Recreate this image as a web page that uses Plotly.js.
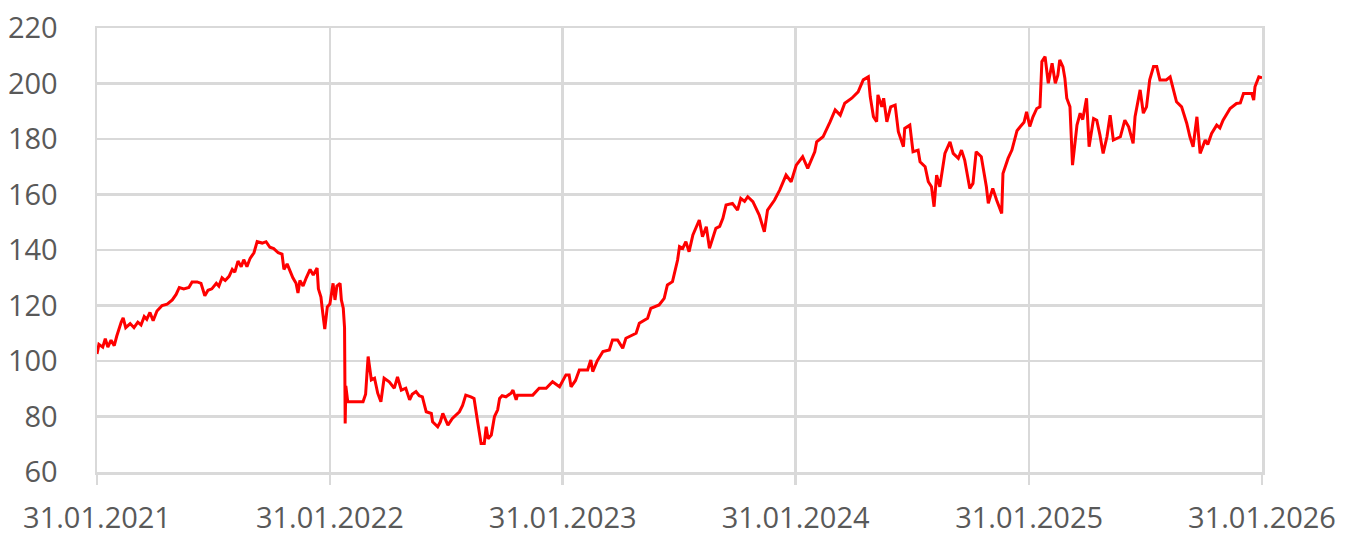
<!DOCTYPE html>
<html>
<head>
<meta charset="utf-8">
<script src="https://cdn.plot.ly/plotly-3.0.1.min.js"></script>
<style>html,body{margin:0;padding:0;background:#fff;}#chart{width:1346px;height:537px;}</style>
</head>
<body>
<div id="chart"></div>
<script>
const dates = [
"2021-01-31","2021-02-03","2021-02-09","2021-02-13","2021-02-17","2021-02-22","2021-02-27","2021-03-03","2021-03-10","2021-03-13",
"2021-03-17","2021-03-24","2021-03-30","2021-04-05","2021-04-10","2021-04-15","2021-04-19","2021-04-24","2021-04-29","2021-05-05",
"2021-05-13","2021-05-21","2021-05-29","2021-06-04","2021-06-09","2021-06-16","2021-06-24","2021-06-29","2021-07-07","2021-07-13",
"2021-07-19","2021-07-24","2021-07-30","2021-08-06","2021-08-10","2021-08-15","2021-08-20","2021-08-26","2021-08-31","2021-09-04",
"2021-09-09","2021-09-14","2021-09-18","2021-09-23","2021-09-28","2021-10-04","2021-10-09","2021-10-17","2021-10-23","2021-10-29",
"2021-11-04","2021-11-11","2021-11-17","2021-11-20","2021-11-25","2021-11-29","2021-12-04","2021-12-09","2021-12-12","2021-12-15",
"2021-12-20","2021-12-25","2021-12-31","2022-01-05","2022-01-11","2022-01-13","2022-01-17","2022-01-20","2022-01-23","2022-01-27",
"2022-01-31","2022-02-05","2022-02-08","2022-02-11","2022-02-16","2022-02-18","2022-02-21","2022-02-23","2022-02-24","2022-02-25",
"2022-02-28","2022-03-24","2022-03-28","2022-03-30","2022-04-01","2022-04-06","2022-04-11","2022-04-16","2022-04-21","2022-04-26",
"2022-05-04","2022-05-12","2022-05-17","2022-05-23","2022-05-30","2022-06-05","2022-06-09","2022-06-15","2022-06-20","2022-06-25",
"2022-07-01","2022-07-09","2022-07-11","2022-07-19","2022-07-23","2022-07-27","2022-07-31","2022-08-04","2022-08-11","2022-08-22",
"2022-08-27","2022-09-01","2022-09-09","2022-09-14","2022-09-20","2022-09-25","2022-09-30","2022-10-03","2022-10-06","2022-10-11",
"2022-10-16","2022-10-21","2022-10-24","2022-10-28","2022-11-03","2022-11-11","2022-11-14","2022-11-19","2022-11-21","2022-12-15",
"2022-12-25","2023-01-05","2023-01-15","2023-01-26","2023-02-05","2023-02-10","2023-02-13","2023-02-20","2023-02-26","2023-03-11",
"2023-03-16","2023-03-19","2023-03-26","2023-04-04","2023-04-14","2023-04-19","2023-04-27","2023-05-05","2023-05-10","2023-05-26",
"2023-05-31","2023-06-13","2023-06-18","2023-07-01","2023-07-09","2023-07-14","2023-07-22","2023-07-25","2023-07-30","2023-08-02",
"2023-08-07","2023-08-12","2023-08-17","2023-08-23","2023-08-28","2023-09-02","2023-09-07","2023-09-13","2023-09-18","2023-09-23",
"2023-09-28","2023-10-04","2023-10-09","2023-10-14","2023-10-24","2023-11-01","2023-11-06","2023-11-12","2023-11-17","2023-11-25",
"2023-11-30","2023-12-05","2023-12-13","2023-12-18","2023-12-29","2024-01-06","2024-01-16","2024-01-24","2024-02-01","2024-02-11",
"2024-02-19","2024-03-01","2024-03-04","2024-03-14","2024-03-25","2024-04-02","2024-04-10","2024-04-17","2024-04-28","2024-05-08",
"2024-05-16","2024-05-24","2024-05-27","2024-06-01","2024-06-06","2024-06-08","2024-06-14","2024-06-17","2024-06-22","2024-06-28",
"2024-07-05","2024-07-10","2024-07-18","2024-07-20","2024-07-28","2024-08-02","2024-08-10","2024-08-13","2024-08-21","2024-08-26",
"2024-08-31","2024-09-04","2024-09-08","2024-09-13","2024-09-21","2024-09-29","2024-10-04","2024-10-12","2024-10-17","2024-10-22",
"2024-10-30","2024-11-04","2024-11-09","2024-11-17","2024-11-25","2024-11-28","2024-12-02","2024-12-05","2024-12-11","2024-12-19",
"2024-12-21","2024-12-29","2025-01-04","2025-01-09","2025-01-12","2025-01-17","2025-01-23","2025-01-27","2025-02-01","2025-02-06",
"2025-02-12","2025-02-17","2025-02-20","2025-02-25","2025-03-02","2025-03-08","2025-03-13","2025-03-17","2025-03-20","2025-03-25",
"2025-03-28","2025-03-31","2025-04-05","2025-04-09","2025-04-16","2025-04-21","2025-04-25","2025-05-01","2025-05-05","2025-05-12",
"2025-05-17","2025-05-22","2025-05-27","2025-06-02","2025-06-07","2025-06-12","2025-06-16","2025-06-23","2025-06-30","2025-07-06",
"2025-07-13","2025-07-16","2025-07-24","2025-07-29","2025-08-03","2025-08-08","2025-08-14","2025-08-19","2025-08-24","2025-09-03",
"2025-09-09","2025-09-14","2025-09-19","2025-09-27","2025-10-05","2025-10-10","2025-10-15","2025-10-21","2025-10-26","2025-11-03",
"2025-11-07","2025-11-13","2025-11-21","2025-11-26","2025-12-01","2025-12-12","2025-12-22","2025-12-28","2026-01-02","2026-01-15",
"2026-01-18","2026-01-20","2026-01-26","2026-01-31"
];
const values = [
102.5,106,105,108,105,107.5,105.5,109,114,115.5,
112,113.5,112,114,113,116,115,117.5,114.5,118,
120,120.5,122,124,126.5,126,126.5,128.5,128.5,128,
123.5,125.5,126,128,127,130,129,130.5,133,132,
136,134,136.5,134,137,139,143,142.5,143,141,
140.5,139,138.5,133,135,132.5,130,128,124.5,129,
127,130,133,131,133.5,126,123,117,111.5,119.5,
120.5,128,122,127,128,122,119,112,77.5,91,
85.3,85.3,88,95,101.6,93.2,93.8,88.4,85.3,93.8,
92.5,90.2,94.3,89.5,90.2,86,88,89,87.5,87.1,
81.7,81.1,78.1,76.3,78,81.1,79,76.9,79.3,81.7,
84,87.7,87.1,86.5,77.5,70.3,70.3,76.3,72,73.3,
80,82.4,86.5,87.5,87.1,88.4,89.5,86,87.7,87.7,
90.2,90.2,92.5,90.7,95,95,90.7,93,96.8,96.8,
100.4,96.2,100,103.4,104,107.6,107.6,104.6,108.2,110,
113.6,115.4,119,120.2,122.6,127.4,128.6,131.6,136.4,141.2,
140.6,143,139.4,145.4,148,150.8,144.8,148.4,140.6,144,
147.8,148.5,151.4,156.2,156.8,154.4,158.6,157.5,159.2,157.4,
155,152.6,146.6,154.4,158,161.6,167,164.6,170.6,173.6,
169.4,175.4,179,180.8,186.2,190.5,188.6,192.9,194.7,197,
201.3,202.4,195.2,188,186.2,195.9,191.6,194.7,186.2,191.6,
192.2,182.6,177.2,183.8,185,175.4,176,171.8,170,164.6,
162.8,155.6,167,162.8,174.8,179,174.8,173,176,172.4,
162.2,164,175.4,173.6,162.8,156.8,160,162.2,158,153.2,
167.6,173,176,180.8,183,184.4,186,189.8,184.5,188,
191,191.6,207.9,209.7,200.1,207.3,200.1,203,208.5,206,
201.9,194.7,191.6,170.6,185,189.3,187,194.7,177.2,187.4,
186.8,181.4,174.8,180.8,188.6,179.6,180,180.8,186.8,184.4,
178.4,188,197.7,189.3,191.6,201.3,206.1,206.1,201.3,201.3,
202.4,197.7,193.4,191.6,185.7,180.8,177.2,188,174.8,179.6,
178,182,185,184,186.8,191,192.8,193,196.4,196.4,
194,198.8,202.4,202
];
const xTickVals = ["2021-01-31","2022-01-31","2023-01-31","2024-01-31","2025-01-31","2026-01-31"];
const xTickText = ["31.01.2021","31.01.2022","31.01.2023","31.01.2024","31.01.2025","31.01.2026"];
const yTickVals = [60,80,100,120,140,160,180,200,220];

const gridCol = '#d9d9d9';
const tf = {family: 'Open Sans, sans-serif', size: 29, color: '#595959'};
const trace = {
  x: dates, y: values, type: 'scatter', mode: 'lines',
  line: {color: '#ff0000', width: 3}, hoverinfo: 'skip'
};
const layout = {
  width: 1346, height: 537,
  margin: {l: 97, r: 84, t: 28, b: 65},
  paper_bgcolor: '#ffffff', plot_bgcolor: '#ffffff',
  showlegend: false,
  font: tf,
  xaxis: {
    type: 'date', range: ['2021-01-31', '2026-01-31'],
    tickmode: 'array', tickvals: xTickVals, ticktext: xTickText,
    showgrid: true, gridcolor: gridCol, gridwidth: 2.5,
    ticks: 'outside', ticklen: 10, tickwidth: 2.5, tickcolor: gridCol,
    showline: true, linecolor: gridCol, linewidth: 2.5, mirror: true,
    zeroline: false, ticklabelstandoff: 9,
    tickfont: tf
  },
  yaxis: {
    range: [60, 220], tickmode: 'array', tickvals: yTickVals,
    showgrid: true, gridcolor: gridCol, gridwidth: 2.5,
    showline: true, linecolor: gridCol, linewidth: 2.5, mirror: true,
    ticks: '', zeroline: false, ticklabelstandoff: 31,
    tickfont: tf
  }
};
Plotly.newPlot('chart', [trace], layout, {displayModeBar: false, staticPlot: true});
</script>
</body>
</html>
